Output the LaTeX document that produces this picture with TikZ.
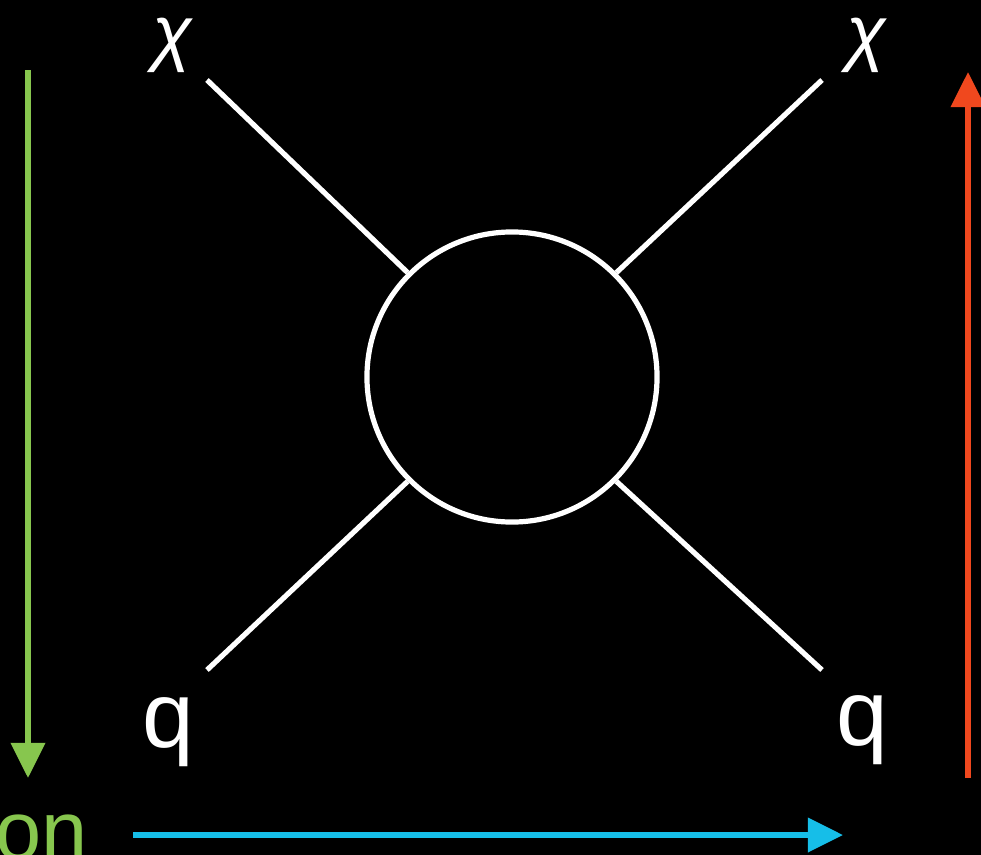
\documentclass[tikz,border=0pt]{standalone}
\usepackage{fontspec}
\setmainfont{Liberation Sans}
\usepackage{xcolor}
\usetikzlibrary{arrows.meta}
\definecolor{flowgreen}{RGB}{135,198,78}
\definecolor{flowred}{RGB}{240,72,30}
\definecolor{flowblue}{RGB}{22,190,232}

\begin{document}
\begin{tikzpicture}[>={Triangle[width=0.84cm,length=0.88cm]}, x=0.025cm, y=-0.025cm,
    leg/.style={draw=white, line width=0.13cm},
    lbl/.style={text=white, inner sep=0pt},
    flow/.style={->, line width=0.14cm}]
  \fill[black] (0,0) rectangle (981,855);
  \useasboundingbox (0,0) rectangle (981,855);
  \clip (0,0) rectangle (981,855);
  % blob and legs
  \node[circle, draw=white, line width=0.13cm, minimum size=7.25cm, inner sep=0pt] (blob) at (512,377) {};
  \coordinate (tl) at (207,80);
  \coordinate (tr) at (822,80);
  \coordinate (bl) at (207,670);
  \coordinate (br) at (822,670);
  \draw[leg] (tl) -- (blob.135);
  \draw[leg] (tr) -- (blob.45);
  \draw[leg] (bl) -- (blob.225);
  \draw[leg] (br) -- (blob.315);
  \node[lbl, font=\fontsize{52}{52}\selectfont\itshape] (chil) at (172,45) {χ};
  \node[lbl, font=\fontsize{52}{52}\selectfont\itshape] (chir) at (866,45) {χ};
  \node[lbl, font=\fontsize{66}{66}\selectfont] (ql) at (168,732) {q};
  \node[lbl, font=\fontsize{66}{66}\selectfont] (qr) at (862,730) {q};
  % arrows
  \coordinate (g0) at (28,70);
  \coordinate (g1) at (28,778);
  \coordinate (r0) at (968,778);
  \coordinate (r1) at (968,72);
  \coordinate (b0) at (133,835);
  \coordinate (b1) at (843,835);
  \draw[flow, draw=flowgreen, fill=flowgreen] (g0) -- (g1);
  \draw[flow, draw=flowred, fill=flowred] (r0) -- (r1);
  \draw[flow, draw=flowblue, fill=flowblue] (b0) -- (b1);
  \node[inner sep=0pt, anchor=base east, text=flowgreen, font=\fontsize{59}{59}\selectfont] (word) at (88,859) {on};
\end{tikzpicture}
\end{document}
